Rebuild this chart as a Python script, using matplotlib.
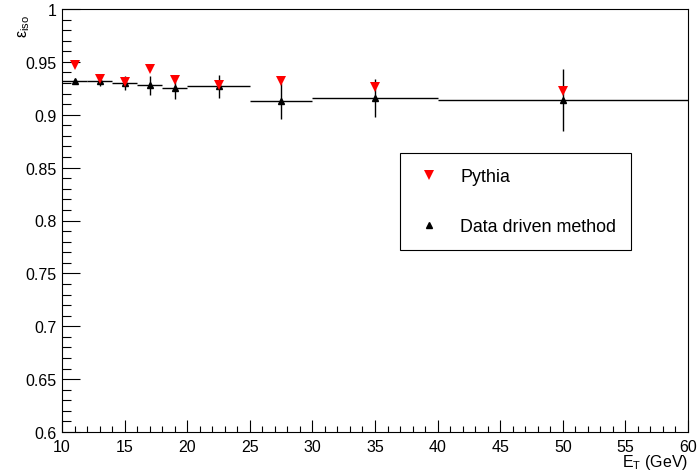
import matplotlib
matplotlib.use("Agg")
import matplotlib.pyplot as plt
from matplotlib.lines import Line2D
from matplotlib.ticker import MultipleLocator

plt.rcParams['font.family'] = ['Liberation Sans', 'DejaVu Sans']
plt.rcParams['mathtext.fontset'] = 'custom'
plt.rcParams['mathtext.rm'] = 'Liberation Sans'
plt.rcParams['mathtext.it'] = 'Liberation Sans'
plt.rcParams['mathtext.bf'] = 'Liberation Sans:bold'

# ---- data ----
et_centers = [11, 13, 15, 17, 19, 22.5, 27.5, 35, 50]
et_halfwidth = [1, 1, 1, 1, 1, 2.5, 2.5, 5, 10]
pythia_eff = [0.947, 0.934, 0.931, 0.943, 0.933, 0.928, 0.932, 0.926, 0.922]
data_eff = [0.932, 0.932, 0.930, 0.928, 0.9255, 0.927, 0.913, 0.9155, 0.914]
data_err = [0.002, 0.005, 0.0065, 0.009, 0.011, 0.011, 0.017, 0.018, 0.029]
legend_labels = ["Pythia", "Data driven method"]

W, H = 698, 477
fig = plt.figure(figsize=(W / 100, H / 100), dpi=100)
ax = fig.add_axes([62 / W, (H - 433) / H, 626 / W, 423 / H])

ax.errorbar(et_centers, data_eff, yerr=data_err, xerr=et_halfwidth,
            fmt='^', color='black', ms=4.8, lw=1.0, capsize=0, zorder=3)
ax.plot(et_centers, pythia_eff, 'v', color='#ff0000', ms=6.5, zorder=4,
        markeredgewidth=0)

ax.set_xlim(10, 60)
ax.set_ylim(0.6, 1.0)
ax.xaxis.set_major_locator(MultipleLocator(5))
ax.xaxis.set_minor_locator(MultipleLocator(1))
ax.yaxis.set_major_locator(MultipleLocator(0.05))
ax.yaxis.set_minor_locator(MultipleLocator(0.01))


def yfmt(v, pos):
    return ('%.2f' % v).rstrip('0').rstrip('.')


ax.yaxis.set_major_formatter(plt.FuncFormatter(yfmt))
ax.tick_params(axis='both', which='both', direction='in', top=False, right=False,
               labelsize=11.5, width=0.8, color='black')
ax.tick_params(axis='y', which='major', length=13, pad=3.6)
ax.tick_params(axis='y', which='minor', length=6.5)
ax.tick_params(axis='x', which='major', length=8.6, pad=5)
ax.tick_params(axis='x', which='minor', length=4.3)
for sp in ax.spines.values():
    sp.set_linewidth(0.8)
    sp.set_color('black')

fig.text(688 / W, 1 - 463 / H, r'E$_{\mathregular{T}}$ (GeV)', ha='right', va='center',
         fontsize=11.5)
ax.text(-0.061, 0.988, r'$\epsilon_{\mathregular{iso}}$', rotation=90, ha='center', va='top',
        fontsize=11.5, transform=ax.transAxes)

handles = [
    Line2D([], [], ls='none', marker='v', color='#ff0000', ms=6.5, markeredgewidth=0),
    Line2D([], [], ls='none', marker='^', color='black', ms=4.8),
]
leg = ax.legend(handles, legend_labels, loc='upper left',
                bbox_to_anchor=(400 / W, 1 - 154 / H), bbox_transform=fig.transFigure,
                fontsize=12.9, frameon=True, fancybox=False, framealpha=1,
                edgecolor='black', borderpad=0.84, labelspacing=1.86,
                handlelength=1.56, handletextpad=0.95, borderaxespad=0)
leg.get_frame().set_linewidth(0.8)

fig.savefig('out.png', dpi=100)
